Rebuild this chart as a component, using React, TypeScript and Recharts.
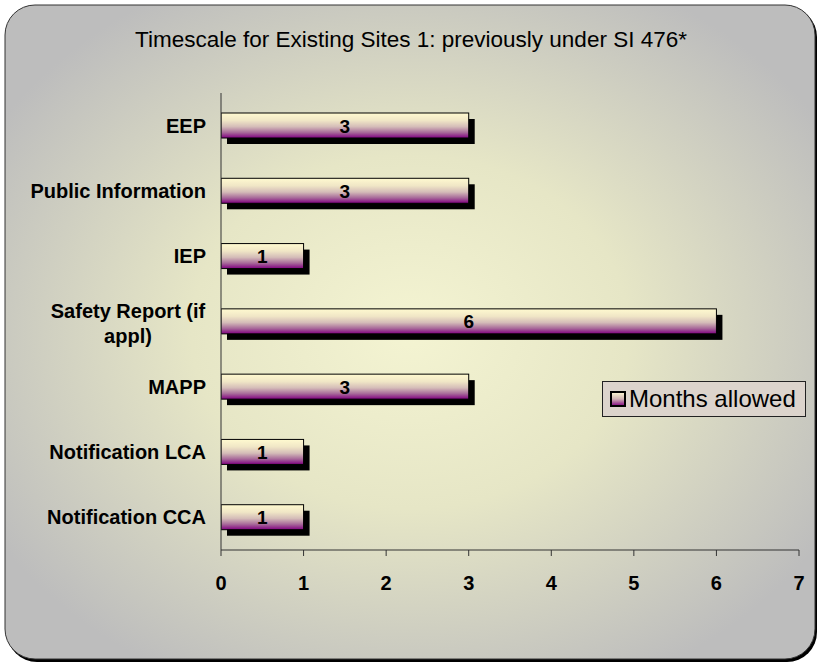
import { BarChart, Bar, XAxis, YAxis, LabelList } from "recharts";

const categories = [
  "EEP",
  "Public Information",
  "IEP",
  "Safety Report (if appl)",
  "MAPP",
  "Notification LCA",
  "Notification CCA",
];
const monthsAllowed = [3, 3, 1, 6, 3, 1, 1];
const xTicks = [0, 1, 2, 3, 4, 5, 6, 7];
const seriesName = "Months allowed";
const title = "Timescale for Existing Sites 1: previously under SI 476*";

// the long label wraps onto two lines like Excel does
const wrapped: Record<string, string[]> = {
  "Safety Report (if appl)": ["Safety Report (if", "appl)"],
};

const data = categories.map((name, i) => ({ name, value: monthsAllowed[i] }));

const font = "Arial, 'Liberation Sans', sans-serif";

const ShadowBar = (props: any) => {
  const { x, y, width, height } = props;
  if (!width || width <= 0) return null;
  return (
    <g>
      <rect x={x + 6} y={y + 6} width={width} height={height} fill="#000" />
      <rect
        x={x}
        y={y}
        width={width}
        height={height}
        fill="url(#barGrad)"
        stroke="#000"
        strokeWidth={1}
      />
    </g>
  );
};

const CategoryTick = (props: any) => {
  const { x, y, payload } = props;
  const lines = wrapped[payload.value];
  if (lines) {
    return (
      <text
        x={x - 78}
        y={y}
        textAnchor="middle"
        fontFamily={font}
        fontWeight="bold"
        fontSize={20}
        fill="#000"
      >
        <tspan x={x - 78} dy={-4}>
          {lines[0]}
        </tspan>
        <tspan x={x - 78} dy={25}>
          {lines[1]}
        </tspan>
      </text>
    );
  }
  return (
    <text
      x={x}
      y={y}
      dy={7}
      textAnchor="end"
      fontFamily={font}
      fontWeight="bold"
      fontSize={20}
      fill="#000"
    >
      {payload.value}
    </text>
  );
};

// value in the middle of each bar
const ValueLabel = (props: any) => {
  const { x, y, width, height, value } = props;
  return (
    <text
      x={x + width / 2}
      y={y + height / 2}
      dy={7}
      textAnchor="middle"
      fontFamily={font}
      fontWeight="bold"
      fontSize={19}
      fill="#000"
    >
      {value}
    </text>
  );
};

const LegendBox = () => (
  <div
    style={{
      position: "absolute",
      left: 602,
      top: 381,
      width: 204,
      height: 36,
      boxSizing: "border-box",
      border: "1px solid #222",
      background: "#dcd4cc",
      display: "flex",
      alignItems: "center",
      paddingLeft: 7,
      fontFamily: font,
      fontSize: 24,
      color: "#000",
      whiteSpace: "nowrap",
    }}
  >
    <svg width={16} height={16} style={{ marginRight: 3 }}>
      <defs>
        <linearGradient id="legGrad" x1="0" y1="0" x2="0" y2="1">
          <stop offset="0%" stopColor="#fffbd5" />
          <stop offset="50%" stopColor="#d0b4b4" />
          <stop offset="100%" stopColor="#800080" />
        </linearGradient>
      </defs>
      <rect x={1} y={1} width={14} height={14} fill="url(#legGrad)" stroke="#000" strokeWidth={2} />
    </svg>
    {seriesName}
  </div>
);

export default function App() {
  return (
    <div style={{ position: "absolute", left: 0, top: 0, width: 822, height: 669 }}>
      <svg
        width={822}
        height={669}
        style={{ position: "absolute", left: 0, top: 0 }}
      >
        <defs>
          <radialGradient id="bgGrad" cx="50%" cy="50%" r="60%">
            <stop offset="0%" stopColor="#f4f4d2" />
            <stop offset="45%" stopColor="#e6e6c6" />
            <stop offset="100%" stopColor="#bdbdbd" />
          </radialGradient>
        </defs>
        <rect x={7} y={7} width={810} height={655} rx={30} fill="#000" />
        <rect x={5} y={5} width={810} height={654} rx={30} fill="url(#bgGrad)" stroke="#333" strokeWidth={1} />
        <text
          x={411}
          y={47}
          textAnchor="middle"
          fontFamily={font}
          fontSize={22.5}
          fill="#000"
        >
          {title}
        </text>
      </svg>
      <div style={{ position: "absolute", left: 0, top: 0 }}>
        <BarChart
          width={822}
          height={669}
          data={data}
          layout="vertical"
          margin={{ top: 93, right: 23, bottom: 89, left: 0 }}
          barSize={25}
        >
          <defs>
            <linearGradient id="barGrad" x1="0" y1="0" x2="0" y2="1">
              <stop offset="0%" stopColor="#fffad0" />
              <stop offset="30%" stopColor="#f0e6c6" />
              <stop offset="55%" stopColor="#d4bcb8" />
              <stop offset="78%" stopColor="#a86a9a" />
              <stop offset="100%" stopColor="#800080" />
            </linearGradient>
          </defs>
          <XAxis
            type="number"
            domain={[0, 7]}
            ticks={xTicks}
            allowDataOverflow
            height={30}
            axisLine={{ stroke: "#333" }}
            tickLine={{ stroke: "#333" }}
            tickSize={6}
            tickMargin={20}
            tick={{ fontFamily: font, fontWeight: "bold", fontSize: 20, fill: "#000" }}
          />
          <YAxis
            type="category"
            dataKey="name"
            width={221}
            axisLine={{ stroke: "#333" }}
            tickLine={false}
            tickMargin={9}
            interval={0}
            tick={<CategoryTick />}
          />
          <Bar
            dataKey="value"
            name={seriesName}
            shape={<ShadowBar />}
            isAnimationActive={false}
          >
            <LabelList dataKey="value" content={<ValueLabel />} />
          </Bar>
        </BarChart>
      </div>
      <LegendBox />
    </div>
  );
}
